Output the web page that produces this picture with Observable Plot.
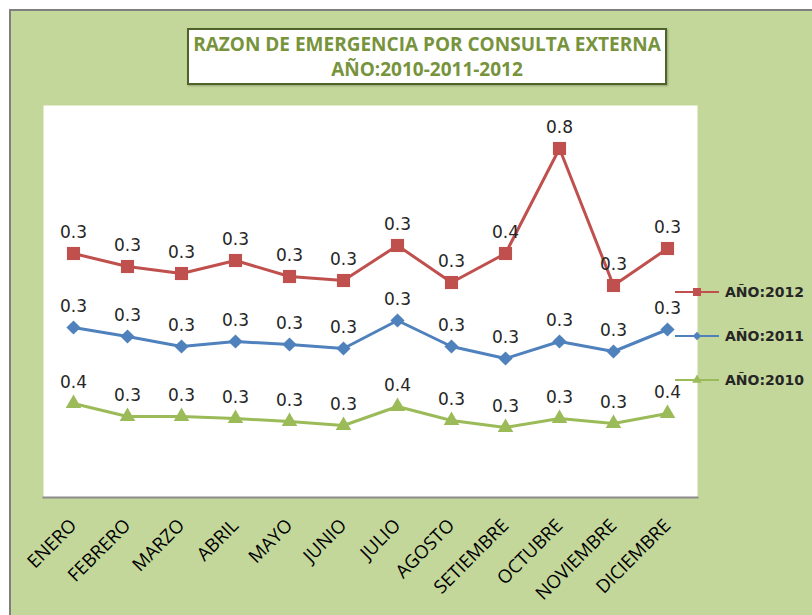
<!DOCTYPE html>
<html><head><meta charset="utf-8">
<script src="https://cdn.jsdelivr.net/npm/d3@7"></script>
<script src="https://cdn.jsdelivr.net/npm/@observablehq/plot@0.6"></script>
<style>
body{margin:0;background:#fff;}
#wrap{position:relative;width:812px;height:615px;overflow:hidden;}
#panel{position:absolute;left:9px;top:9px;width:820px;height:620px;background:#c4d79b;border-top:2px solid #7f7f7f;border-left:2px solid #7f7f7f;}
#chart{position:absolute;left:0;top:0;}
#title{position:absolute;left:187px;top:28px;width:480px;height:57px;box-sizing:border-box;background:#fff;border:2px solid #4f6228;
  box-shadow:1px 1px 2px rgba(0,0,0,0.25);
  font-family:"Open Sans",sans-serif;font-weight:700;font-size:19px;line-height:25px;color:#77933c;text-align:center;padding-top:2px;}
.leg{position:absolute;left:674px;height:20px;display:flex;align-items:center;font-family:"DejaVu Sans",sans-serif;font-weight:bold;font-size:14px;color:#262626;}
.leg svg{margin-right:5px;}
</style></head>
<body>
<div id="wrap">
  <div id="panel"></div>
  <div id="chart"></div>
  <div id="title"></div>
  <div id="legend"></div>
</div>
<script>
const months = ["ENERO","FEBRERO","MARZO","ABRIL","MAYO","JUNIO","JULIO","AGOSTO","SETIEMBRE","OCTUBRE","NOVIEMBRE","DICIEMBRE"];
const v2010 = [0.396,0.344,0.344,0.336,0.324,0.308,0.384,0.328,0.300,0.336,0.316,0.356];
const v2011 = [0.304,0.320,0.280,0.308,0.308,0.308,0.344,0.296,0.276,0.308,0.288,0.336];
const v2012 = [0.296,0.280,0.292,0.324,0.272,0.272,0.300,0.256,0.420,0.772,0.264,0.324];
const seriesNames = ["AÑO:2010","AÑO:2011","AÑO:2012"];
const seriesValues = [v2010, v2011, v2012];
const colors = ["#9bbb59","#4f81bd","#c0504d"];
const symbols = ["triangle","diamond2","square"];
const radii = [5.8, 6.4, 7.4];
const titleLines = ["RAZON DE EMERGENCIA POR CONSULTA EXTERNA","AÑO:2010-2011-2012"];

// stacked line table
const rows = [];
months.forEach((m, i) => {
  let acc = 0;
  seriesValues.forEach((vals, s) => {
    acc += vals[i];
    rows.push({month: m, series: seriesNames[s], value: vals[i], top: acc});
  });
});

const fmt = d3.format(".1f");

const chart = Plot.plot({
  width: 812, height: 615,
  marginLeft: 43, marginRight: 115, marginTop: 105, marginBottom: 118,
  style: {background: "transparent", overflow: "visible"},
  x: {type: "point", domain: months, padding: 0.5},
  y: {domain: [0, 1.6], range: [502, 102], axis: null},
  color: {domain: seriesNames, range: colors},
  symbol: {domain: seriesNames, range: symbols},
  marks: [
    Plot.frame({fill: "white"}),
    Plot.frame({anchor: "bottom", stroke: "#8c8c8c", strokeWidth: 2}),
    Plot.line(rows, {x: "month", y: "top", z: "series", stroke: "series", strokeWidth: 3}),
    ...seriesNames.map((s, k) => Plot.dot(rows.filter(d => d.series === s),
      {x: "month", y: "top", symbol: "series", fill: "series", r: radii[k], stroke: null})),
    Plot.text(rows, {x: "month", y: "top", text: d => fmt(d.value), dy: -21,
      fontSize: 17, fontFamily: "DejaVu Sans", fill: "#262626"}),
    Plot.axisX({tickRotate: -45, tickSize: 0, tickPadding: 25, label: null,
      fontSize: 18.5, fontFamily: "Open Sans", fill: "#000"})
  ]
});
document.getElementById("chart").appendChild(chart);

document.getElementById("title").innerHTML = titleLines.map(t => `<div>${t}</div>`).join("");

// legend (top to bottom: 2012, 2011, 2010)
const legTops = [282, 326, 370];
const legend = document.getElementById("legend");
[2, 1, 0].forEach((s, j) => {
  const div = document.createElement("div");
  div.className = "leg";
  div.style.top = (legTops[j]) + "px";
  const svg = d3.create("svg").attr("width", 46).attr("height", 20);
  svg.append("line").attr("x1", 1).attr("x2", 45).attr("y1", 10).attr("y2", 10)
    .attr("stroke", colors[s]).attr("stroke-width", 2);
  const sym = [d3.symbolTriangle, d3.symbolDiamond2, d3.symbolSquare][s];
  svg.append("path").attr("d", d3.symbol(sym, [40, 45, 64][s])())
    .attr("transform", "translate(23,10)").attr("fill", colors[s]);
  div.appendChild(svg.node());
  const span = document.createElement("span");
  span.textContent = seriesNames[s];
  div.appendChild(span);
  legend.appendChild(div);
});
</script>
</body></html>
